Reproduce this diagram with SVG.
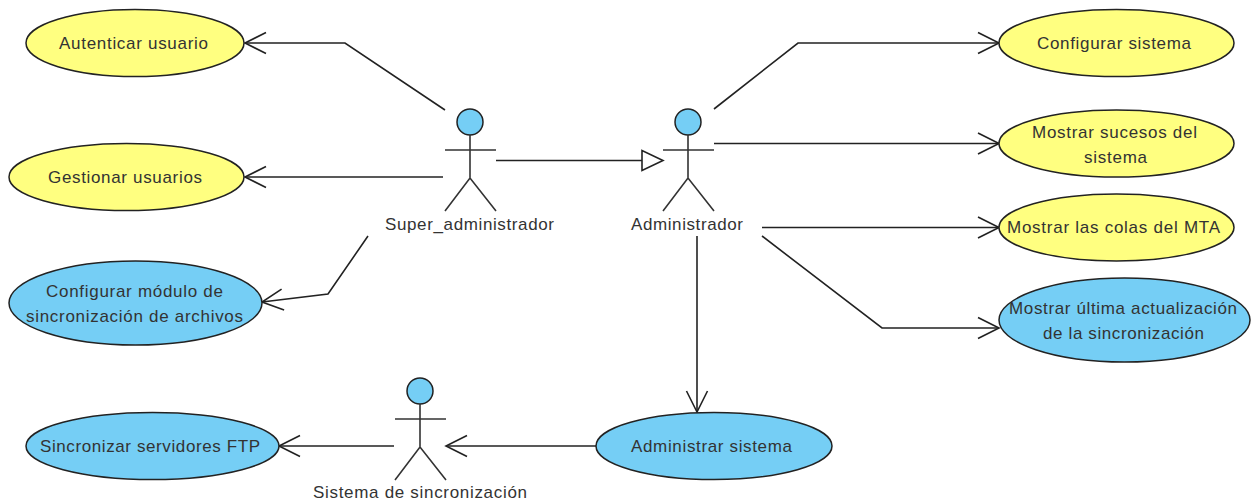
<svg xmlns="http://www.w3.org/2000/svg" width="1251" height="501" viewBox="0 0 1251 501">
<style>
.y{fill:#ffff80;stroke:#222;stroke-width:1.5}
.b{fill:#75cef5;stroke:#222;stroke-width:1.5}
.t{font-family:"Liberation Sans",Arial,sans-serif;font-size:17px;fill:#333;text-anchor:middle}
.c{fill:none;stroke:#222;stroke-width:1.6}
.a{fill:none;stroke:#333;stroke-width:1.6}
.o{marker-end:url(#open)}
</style>
<defs>
<marker id="open" markerUnits="userSpaceOnUse" markerWidth="24" markerHeight="24" viewBox="-22 -12 24 24" refX="0" refY="0" orient="auto"><path d="M-21,-10.5L0,0L-21,10.5" fill="none" stroke="#222" stroke-width="1.6"/></marker>
<g id="actor"><circle class="b" cx="0" cy="0" r="13"/><path class="a" d="M0,13V56M-25,28H26M-25,89L0,56L26,89"/></g>
</defs>
<rect width="1251" height="501" fill="#fff"/>
<g id="connectors">
<path class="c o" d="M445,110L345,43H245"/>
<path class="c o" d="M443,177H245"/>
<path class="c o" d="M368,236L328,294L262,302"/>
<path class="c" d="M496,160.500H642"/>
<path class="c" d="M642,150.500V170.500L663,160.500Z"/>
<path class="c o" d="M714,109L798,43H999"/>
<path class="c o" d="M714,143.500H999"/>
<path class="c o" d="M762,227.500H999"/>
<path class="c o" d="M762,236L882,328H999"/>
<path class="c o" d="M697,236V412"/>
<path class="c o" d="M596,446H446"/>
<path class="c o" d="M394,446H279"/>
</g>
<g id="uc-autenticar"><ellipse class="y" cx="135" cy="43" rx="109" ry="33.500"/><text class="t" x="133.500" y="49" textLength="149">Autenticar usuario</text></g>
<g id="uc-gestionar"><ellipse class="y" cx="126.500" cy="177" rx="117.500" ry="33.500"/><text class="t" x="125" y="183" textLength="154">Gestionar usuarios</text></g>
<g id="uc-modulo"><ellipse class="b" cx="135.500" cy="303" rx="126.500" ry="42"/><text class="t" x="134.500" y="297" textLength="177">Configurar módulo de</text><text class="t" x="134.500" y="322" textLength="217">sincronización de archivos</text></g>
<g id="uc-sincronizar"><ellipse class="b" cx="152.500" cy="446" rx="126.500" ry="33.500"/><text class="t" x="150" y="452" textLength="220">Sincronizar servidores FTP</text></g>
<g id="uc-administrar"><ellipse class="b" cx="714" cy="446" rx="118" ry="33.500"/><text class="t" x="711.500" y="452" textLength="161">Administrar sistema</text></g>
<g id="uc-configurar"><ellipse class="y" cx="1116.500" cy="43" rx="117.500" ry="33.500"/><text class="t" x="1114" y="49" textLength="154">Configurar sistema</text></g>
<g id="uc-sucesos"><ellipse class="y" cx="1116.500" cy="143.500" rx="117.500" ry="33.500"/><text class="t" x="1114.500" y="137.500" textLength="165">Mostrar sucesos del</text><text class="t" x="1115.500" y="162.500" textLength="63">sistema</text></g>
<g id="uc-colas"><ellipse class="y" cx="1116.500" cy="227.500" rx="117.500" ry="33.500"/><text class="t" x="1113.500" y="233" textLength="213">Mostrar las colas del MTA</text></g>
<g id="uc-ultima"><ellipse class="b" cx="1124.500" cy="320" rx="125.500" ry="42"/><text class="t" x="1123" y="313.500" textLength="228">Mostrar última actualización</text><text class="t" x="1123.500" y="338.500" textLength="161">de la sincronización</text></g>
<g id="actor-super"><use href="#actor" x="470" y="122"/><text class="t" x="469.500" y="230" textLength="169">Super_administrador</text></g>
<g id="actor-admin"><use href="#actor" x="688" y="122"/><text class="t" x="687" y="230" textLength="112">Administrador</text></g>
<g id="actor-sistema"><use href="#actor" x="420" y="391"/><text class="t" x="420" y="498" textLength="214">Sistema de sincronización</text></g>
</svg>
